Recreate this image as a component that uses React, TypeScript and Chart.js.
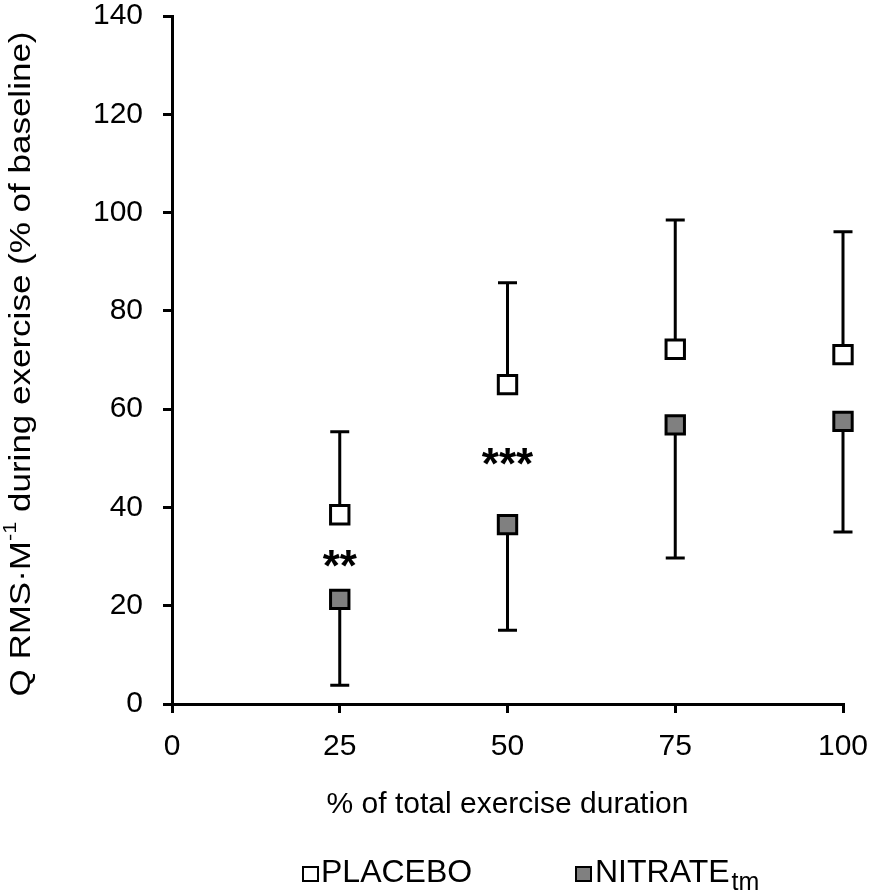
import React, { useEffect, useRef } from 'react';
import { Chart, registerables } from 'chart.js';

Chart.register(...registerables);

// % of total exercise duration
const timePoints = [25, 50, 75, 100];
const xTickValues = [0, 25, 50, 75, 100];

// Q RMS·M-1 (% of baseline), mean and one-sided SD end
const placeboMean = [38.5, 65.0, 72.2, 71.1];
const placeboUpper = [55.4, 85.7, 98.5, 96.1];
const nitrateMean = [21.3, 36.5, 56.8, 57.5];
const nitrateLower = [3.8, 15.0, 29.7, 35.0];

// significance markers (glyph centre in y units)
const sigMarks = ['**', '***', '', ''];
const sigLevels = [30.1, 50.9, 0, 0];

const FONT = '"Liberation Sans", Arial, sans-serif';
const FONT_SIZE = 30;
const Y_TITLE_LENGTH = 665;

const errorBars = {
  id: 'errorBars',
  beforeDatasetsDraw(chart: any) {
    const { ctx, scales } = chart;
    const x = scales.x;
    const y = scales.y;
    ctx.save();
    ctx.strokeStyle = '#000';
    ctx.lineWidth = 3;
    const draw = (means: number[], ends: number[]) => {
      means.forEach((m, i) => {
        const px = x.getPixelForValue(timePoints[i]);
        const y0 = y.getPixelForValue(m);
        const y1 = y.getPixelForValue(ends[i]);
        ctx.beginPath();
        ctx.moveTo(px, y0);
        ctx.lineTo(px, y1);
        ctx.moveTo(px - 9.5, y1);
        ctx.lineTo(px + 9.5, y1);
        ctx.stroke();
      });
    };
    draw(placeboMean, placeboUpper);
    draw(nitrateMean, nitrateLower);
    ctx.restore();
  },
  afterDatasetsDraw(chart: any) {
    const { ctx, scales } = chart;
    const size = 44;
    ctx.save();
    ctx.fillStyle = '#000';
    ctx.font = `bold ${size}px ${FONT}`;
    ctx.textAlign = 'center';
    ctx.textBaseline = 'alphabetic';
    sigMarks.forEach((s, i) => {
      if (!s) return;
      const px = scales.x.getPixelForValue(timePoints[i]);
      const py = scales.y.getPixelForValue(sigLevels[i]);
      ctx.fillText(s, px, py + size * 0.57);
    });
    ctx.restore();
  },
  afterDraw(chart: any) {
    // y axis title with superscript
    const { ctx } = chart;
    const parts: [string, number, number][] = [
      ['Q RMS\u00B7M', FONT_SIZE, 0],
      ['-1', FONT_SIZE * 0.62, -FONT_SIZE * 0.36],
      [' during exercise (% of baseline)', FONT_SIZE, 0],
    ];
    ctx.save();
    ctx.fillStyle = '#000';
    ctx.textBaseline = 'middle';
    ctx.textAlign = 'left';
    let total = 0;
    parts.forEach(([t, s]) => {
      ctx.font = `${s}px ${FONT}`;
      total += ctx.measureText(t).width;
    });
    ctx.translate(22, 364);
    ctx.rotate(-Math.PI / 2);
    ctx.scale(Y_TITLE_LENGTH / total, 1);
    let cx = -total / 2;
    parts.forEach(([t, s, dy]) => {
      ctx.font = `${s}px ${FONT}`;
      ctx.fillText(t, cx, dy);
      cx += ctx.measureText(t).width;
    });
    ctx.restore();
  },
};

export default function App() {
  const canvasRef = useRef<HTMLCanvasElement>(null);
  const chartRef = useRef<Chart | null>(null);

  useEffect(() => {
    if (!canvasRef.current) return;
    const ctx = canvasRef.current.getContext('2d');
    if (!ctx) return;

    const axisStyle = {
      grid: { drawOnChartArea: false, drawTicks: true, tickLength: 9, color: '#000', lineWidth: 3 },
      border: { color: '#000', width: 3 },
    };

    chartRef.current = new Chart(ctx, {
      type: 'scatter',
      data: {
        datasets: [
          {
            label: 'PLACEBO',
            data: timePoints.map((t, i) => ({ x: t, y: placeboMean[i] })),
            pointStyle: 'rect',
            pointRadius: 13,
            pointHoverRadius: 13,
            borderWidth: 3,
            borderColor: '#000',
            backgroundColor: '#fff',
            showLine: false,
            clip: false,
          },
          {
            label: 'NITRATE',
            data: timePoints.map((t, i) => ({ x: t, y: nitrateMean[i] })),
            pointStyle: 'rect',
            pointRadius: 13,
            pointHoverRadius: 13,
            borderWidth: 3,
            borderColor: '#000',
            backgroundColor: '#808080',
            showLine: false,
            clip: false,
          },
        ],
      },
      options: {
        animation: false,
        responsive: true,
        maintainAspectRatio: false,
        layout: { padding: { top: 15, right: 30, bottom: 71, left: 0 } },
        plugins: { legend: { display: false }, tooltip: { enabled: false } },
        scales: {
          x: {
            type: 'linear',
            min: 0,
            max: 100,
            afterBuildTicks: (scale: any) => {
              scale.ticks = xTickValues.map((v) => ({ value: v }));
            },
            afterFit: (scale: any) => {
              scale.height = 119;
              scale.paddingLeft = 0;
              scale.paddingRight = 0;
            },
            ticks: {
              color: '#000',
              padding: 19,
              font: { family: FONT, size: FONT_SIZE, lineHeight: 1 },
            },
            title: {
              display: true,
              text: '% of total exercise duration',
              color: '#000',
              padding: 0,
              font: { family: FONT, size: FONT_SIZE, lineHeight: 1.2 },
            },
            ...axisStyle,
          },
          y: {
            min: 0,
            max: 140,
            afterFit: (scale: any) => {
              scale.width = 172;
              scale.paddingTop = 0;
              scale.paddingBottom = 0;
            },
            ticks: {
              stepSize: 20,
              color: '#000',
              padding: 20,
              font: { family: FONT, size: FONT_SIZE, lineHeight: 1 },
            },
            ...axisStyle,
          },
        },
      },
      plugins: [errorBars],
    } as any);

    return () => {
      if (chartRef.current) {
        chartRef.current.destroy();
      }
    };
  }, []);

  const box = (left: number, fill: string): React.CSSProperties => ({
    position: 'absolute',
    left: `${left}px`,
    top: '866px',
    width: '17px',
    height: '16px',
    boxSizing: 'border-box',
    border: '2.5px solid #000',
    background: fill,
  });

  const label = (left: number): React.CSSProperties => ({
    position: 'absolute',
    left: `${left}px`,
    top: '855px',
    fontSize: '32px',
    lineHeight: '32px',
    color: '#000',
    whiteSpace: 'nowrap',
  });

  return (
    <div
      style={{
        position: 'absolute',
        left: 0,
        top: 0,
        width: '873px',
        height: '894px',
        background: '#fff',
        fontFamily: FONT,
        overflow: 'hidden',
      }}
    >
      <canvas ref={canvasRef} />
      <div style={box(302, '#fff')} />
      <div style={label(321)}>PLACEBO</div>
      <div style={box(575, '#808080')} />
      <div style={label(595)}>
        NITRATE
        <span style={{ fontSize: '25px', verticalAlign: '-8px', marginLeft: '2px' }}>tm</span>
      </div>
    </div>
  );
}
